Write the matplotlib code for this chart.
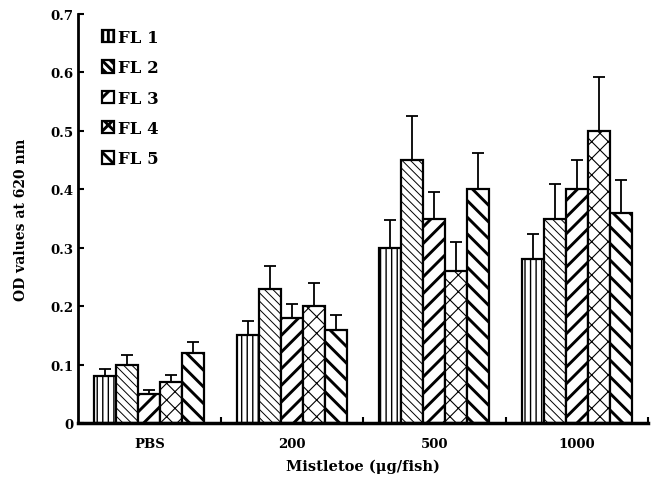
import matplotlib
matplotlib.use("Agg")
import matplotlib.pyplot as plt
import numpy as np

plt.rcParams['font.family'] = ['DejaVu Serif']
plt.rcParams['font.weight'] = 'bold'

# datos
grupos = ["PBS", "200", "500", "1000"]
series = ["FL 1", "FL 2", "FL 3", "FL 4", "FL 5"]
medias = {
    "FL 1": [0.08, 0.15, 0.30, 0.28],
    "FL 2": [0.10, 0.23, 0.45, 0.35],
    "FL 3": [0.05, 0.18, 0.35, 0.40],
    "FL 4": [0.07, 0.20, 0.26, 0.50],
    "FL 5": [0.12, 0.16, 0.40, 0.36],
}
errores = {
    "FL 1": [0.012, 0.024, 0.048, 0.044],
    "FL 2": [0.017, 0.039, 0.075, 0.059],
    "FL 3": [0.006, 0.023, 0.045, 0.050],
    "FL 4": [0.012, 0.039, 0.050, 0.093],
    "FL 5": [0.019, 0.025, 0.062, 0.056],
}
tramas = ['|||', '\\\\\\\\', '//', 'xx', '\\\\']
grosor_trama = [1.0, 0.7, 2.1, 0.8, 2.1]

fig = plt.figure(figsize=(6.53, 4.85), dpi=100)
ax = fig.add_axes([78/653, 1-424/485, 570/653, 409/485])

x = np.arange(len(grupos))
ancho = 0.154
for i, s in enumerate(series):
    plt.rcParams['hatch.linewidth'] = grosor_trama[i]
    pos = x + (i - 2) * ancho
    barras = ax.bar(pos, medias[s], ancho, color='white', edgecolor='black',
                    linewidth=1.6, hatch=tramas[i], label=s, zorder=2)
    for b in barras:
        if hasattr(b, 'set_hatch_linewidth'):
            b.set_hatch_linewidth(grosor_trama[i])
    ax.errorbar(pos, medias[s], yerr=[np.zeros(4), errores[s]], fmt='none',
                ecolor='black', elinewidth=1.3, capsize=4, capthick=1.3, zorder=1)

ax.set_xlim(-0.5, 3.5)
ax.set_ylim(0, 0.7)
ax.spines['top'].set_visible(False)
ax.spines['right'].set_visible(False)
ax.spines['left'].set_linewidth(2)
ax.spines['bottom'].set_linewidth(2.5)

ax.set_yticks(np.arange(0, 0.71, 0.1))
ax.set_yticklabels(['0', '0.1', '0.2', '0.3', '0.4', '0.5', '0.6', '0.7'])
ax.tick_params(axis='y', direction='in', length=4, width=1.5, labelsize=9.5)

ax.set_xticks([0.5, 1.5, 2.5, 3.5])
ax.set_xticklabels([])
ax.set_xticks(x, minor=True)
ax.set_xticklabels(grupos, minor=True)
ax.tick_params(axis='x', which='major', direction='in', length=4, width=1.5)
ax.tick_params(axis='x', which='minor', length=0, labelsize=9.5, pad=10)

ax.set_ylabel('OD values at 620 nm', fontsize=10, fontweight='bold', labelpad=16)
ax.set_xlabel('Mistletoe (\u03bcg/fish)', fontsize=10.5, fontweight='bold', labelpad=6)

leg = ax.legend(loc='upper left', bbox_to_anchor=(0.015, 1.0), frameon=False,
                handlelength=0.75, handleheight=0.75, handletextpad=0.25,
                labelspacing=0.8, prop={'weight': 'bold', 'size': 12})

fig.savefig('out.png', dpi=100)
